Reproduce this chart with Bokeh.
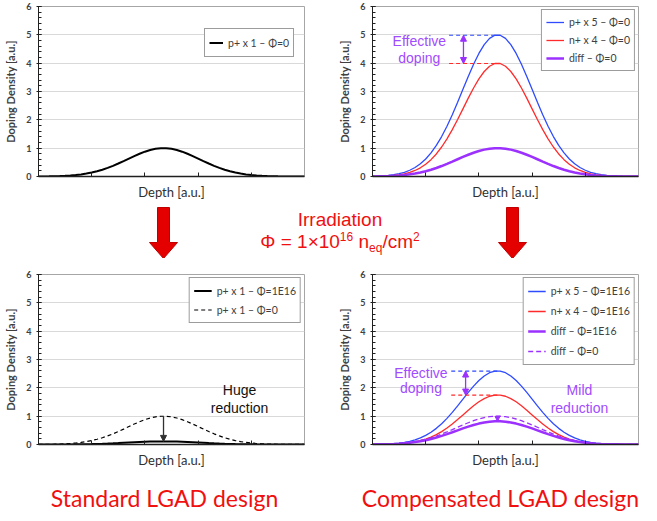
from bokeh.plotting import figure
from bokeh.layouts import column, row
from bokeh.models import Range1d, FixedTicker, Legend, LegendItem, Arrow, NormalHead, Div
from bokeh.core.properties import value
from bokeh.embed import file_html
from bokeh.resources import INLINE

# ---------------- data ----------------
depth = [0.0, 0.1, 0.2, 0.3, 0.4, 0.5, 0.6, 0.7, 0.8, 0.9, 1.0, 1.1, 1.2, 1.3, 1.4, 1.5, 1.6,
         1.7, 1.8, 1.9, 2.0, 2.1, 2.2, 2.3, 2.4, 2.5, 2.6, 2.7, 2.8, 2.9, 3.0, 3.1, 3.2, 3.3,
         3.4, 3.5, 3.6, 3.7, 3.8, 3.9, 4.0, 4.1, 4.2, 4.3, 4.4, 4.5, 4.6, 4.7, 4.8, 4.9, 5.0]

p1_phi0 = [0.003, 0.004, 0.007, 0.011, 0.016, 0.025, 0.036, 0.053, 0.074, 0.103, 0.139, 0.185,
           0.239, 0.304, 0.377, 0.458, 0.544, 0.633, 0.721, 0.803, 0.876, 0.935, 0.976, 0.997,
           0.997, 0.976, 0.935, 0.876, 0.803, 0.721, 0.633, 0.544, 0.458, 0.377, 0.304, 0.239,
           0.185, 0.139, 0.103, 0.074, 0.053, 0.036, 0.025, 0.016, 0.011, 0.007, 0.004, 0.003,
           0.002, 0.001, 0.001]
p1_phi16 = [0.000, 0.000, 0.001, 0.001, 0.002, 0.003, 0.004, 0.006, 0.008, 0.011, 0.015, 0.020,
            0.026, 0.033, 0.041, 0.050, 0.060, 0.070, 0.079, 0.088, 0.096, 0.103, 0.107, 0.110,
            0.110, 0.107, 0.103, 0.096, 0.088, 0.079, 0.070, 0.060, 0.050, 0.041, 0.033, 0.026,
            0.020, 0.015, 0.011, 0.008, 0.006, 0.004, 0.003, 0.002, 0.001, 0.001, 0.000, 0.000,
            0.000, 0.000, 0.000]
p5_phi0 = [0.009, 0.015, 0.025, 0.040, 0.064, 0.098, 0.149, 0.220, 0.317, 0.448, 0.617, 0.832,
           1.096, 1.410, 1.775, 2.182, 2.622, 3.079, 3.533, 3.963, 4.344, 4.654, 4.873, 4.986,
           4.986, 4.873, 4.654, 4.344, 3.963, 3.533, 3.079, 2.622, 2.182, 1.775, 1.410, 1.096,
           0.832, 0.617, 0.448, 0.317, 0.220, 0.149, 0.098, 0.064, 0.040, 0.025, 0.015, 0.009,
           0.005, 0.003, 0.002]
n4_phi0 = [0.005, 0.008, 0.014, 0.024, 0.039, 0.061, 0.095, 0.144, 0.213, 0.307, 0.432, 0.594,
           0.796, 1.041, 1.329, 1.656, 2.013, 2.388, 2.765, 3.124, 3.444, 3.706, 3.892, 3.988,
           3.988, 3.892, 3.706, 3.444, 3.124, 2.765, 2.388, 2.013, 1.656, 1.329, 1.041, 0.796,
           0.594, 0.432, 0.307, 0.213, 0.144, 0.095, 0.061, 0.039, 0.024, 0.014, 0.008, 0.005,
           0.003, 0.001, 0.001]
diff_phi0 = [0.004, 0.007, 0.011, 0.016, 0.025, 0.037, 0.054, 0.076, 0.104, 0.141, 0.185, 0.238,
             0.300, 0.369, 0.446, 0.526, 0.609, 0.691, 0.768, 0.839, 0.900, 0.948, 0.981, 0.998,
             0.998, 0.981, 0.948, 0.900, 0.839, 0.768, 0.691, 0.609, 0.526, 0.446, 0.369, 0.300,
             0.238, 0.185, 0.141, 0.104, 0.076, 0.054, 0.037, 0.025, 0.016, 0.011, 0.007, 0.004,
             0.002, 0.002, 0.001]
p5_phi16 = [0.005, 0.008, 0.013, 0.021, 0.033, 0.051, 0.077, 0.114, 0.165, 0.233, 0.321, 0.433,
            0.570, 0.733, 0.923, 1.135, 1.363, 1.601, 1.837, 2.061, 2.259, 2.420, 2.534, 2.593,
            2.593, 2.534, 2.420, 2.259, 2.061, 1.837, 1.601, 1.363, 1.135, 0.923, 0.733, 0.570,
            0.433, 0.321, 0.233, 0.165, 0.114, 0.077, 0.051, 0.033, 0.021, 0.013, 0.008, 0.005,
            0.003, 0.002, 0.001]
n4_phi16 = [0.002, 0.004, 0.006, 0.011, 0.017, 0.027, 0.042, 0.063, 0.093, 0.134, 0.189, 0.260,
            0.348, 0.455, 0.581, 0.725, 0.881, 1.045, 1.210, 1.367, 1.507, 1.621, 1.703, 1.745,
            1.745, 1.703, 1.621, 1.507, 1.367, 1.210, 1.045, 0.881, 0.725, 0.581, 0.455, 0.348,
            0.260, 0.189, 0.134, 0.093, 0.063, 0.042, 0.027, 0.017, 0.011, 0.006, 0.004, 0.002,
            0.001, 0.000, 0.000]
diff_phi16 = [0.003, 0.006, 0.009, 0.013, 0.021, 0.030, 0.044, 0.062, 0.085, 0.116, 0.152, 0.195,
              0.246, 0.303, 0.366, 0.431, 0.499, 0.567, 0.630, 0.688, 0.738, 0.777, 0.804, 0.818,
              0.818, 0.804, 0.777, 0.738, 0.688, 0.630, 0.567, 0.499, 0.431, 0.366, 0.303, 0.246,
              0.195, 0.152, 0.116, 0.085, 0.062, 0.044, 0.030, 0.021, 0.013, 0.009, 0.006, 0.003,
              0.002, 0.002, 0.001]

peak_depth = 2.35
y_ticks = [0, 1, 2, 3, 4, 5, 6]
x_ticks = [1, 2, 3, 4]

legend_tl = ["p+ x 1 \u2013 \u03a6=0"]
legend_tr = ["p+ x 5 \u2013 \u03a6=0", "n+ x 4 \u2013 \u03a6=0", "diff \u2013 \u03a6=0"]
legend_bl = ["p+ x 1 \u2013 \u03a6=1E16", "p+ x 1 \u2013 \u03a6=0"]
legend_br = ["p+ x 5 \u2013 \u03a6=1E16", "n+ x 4 \u2013 \u03a6=1E16", "diff \u2013 \u03a6=1E16",
             "diff \u2013 \u03a6=0"]
bottom_titles = ["Standard LGAD design", "Compensated LGAD design"]

BLUE = "#2f4bff"
RED = "#ff2b2b"
PURPLE = "#9b30ff"
PTEXT = "#a04cff"
DARK = "#404040"
FONT = "Lato"
AFONT = "Liberation Sans"


def panel(min_right):
    p = figure(frame_width=266, frame_height=170, x_range=Range1d(0, 5), y_range=Range1d(0, 6),
               output_backend="svg", toolbar_location=None,
               min_border_left=38, min_border_right=min_right, min_border_top=6,
               min_border_bottom=24)
    p.xgrid.visible = False
    p.ygrid.grid_line_color = "#d9d9d9"
    p.ygrid.ticker = FixedTicker(ticks=y_ticks)
    p.outline_line_color = "#a6a6a6"
    p.outline_line_width = 1
    p.background_fill_color = "white"
    p.border_fill_color = "white"

    xa = p.xaxis[0]
    xa.ticker = FixedTicker(ticks=x_ticks)
    xa.major_label_overrides = {t: "" for t in x_ticks}
    xa.major_label_text_font_size = "1px"
    xa.major_label_standoff = 0
    xa.major_tick_in = 4
    xa.major_tick_out = 0
    xa.minor_tick_in = 0
    xa.minor_tick_out = 0
    xa.axis_line_color = "#202020"
    xa.axis_line_width = 1.5
    xa.major_tick_line_color = "#202020"
    xa.axis_label = "Depth [a.u.]"
    xa.axis_label_text_font = FONT
    xa.axis_label_text_font_style = "normal"
    xa.axis_label_text_font_size = "13px"
    xa.axis_label_text_color = "#303030"
    xa.axis_label_standoff = 7

    ya = p.yaxis[0]
    ya.ticker = FixedTicker(ticks=y_ticks, minor_ticks=[i / 5 for i in range(31)])
    ya.major_label_text_font = FONT
    ya.major_label_text_font_style = "bold"
    ya.major_label_text_font_size = "9px"
    ya.major_label_text_color = DARK
    ya.major_label_standoff = 5
    ya.major_tick_in = 3
    ya.major_tick_out = 2
    ya.minor_tick_in = 3
    ya.minor_tick_out = 0
    ya.axis_line_color = "#202020"
    ya.major_tick_line_color = "#202020"
    ya.minor_tick_line_color = "#202020"
    ya.axis_label = "Doping Density [a.u.]"
    ya.axis_label_text_font = FONT
    ya.axis_label_text_font_style = "bold"
    ya.axis_label_text_font_size = "11px"
    ya.axis_label_text_color = DARK
    ya.axis_label_standoff = 6
    return p


def make_legend(p, labels, renderers, location, label_h, glyph_w=18, margin=3):
    leg = Legend(items=[LegendItem(label=l, renderers=[r]) for l, r in zip(labels, renderers)],
                 location=location)
    leg.label_text_font = FONT
    leg.label_text_font_size = "10.5px"
    leg.label_text_color = DARK
    leg.border_line_color = "#3a3a3a"
    leg.border_line_width = 1
    leg.background_fill_color = "white"
    leg.background_fill_alpha = 1
    leg.padding = 4
    leg.spacing = 2
    leg.margin = margin
    leg.glyph_width = glyph_w
    leg.glyph_height = label_h
    leg.label_height = label_h
    leg.label_standoff = 5
    p.add_layout(leg)


def ptext(p, xs, ys, lines, color, size="14px"):
    p.text(x=xs, y=ys, text=lines, text_font=value(AFONT), text_font_size=value(size),
           text_color=color, text_align="center", text_baseline="middle")


# ---------------- top left ----------------
p_tl = panel(30)
r = p_tl.line(depth, p1_phi0, line_color="black", line_width=2)
make_legend(p_tl, legend_tl, [r], (166, 119), 19, glyph_w=14)

# ---------------- top right ----------------
p_tr = panel(3)
rb = p_tr.line(depth, p5_phi0, line_color=BLUE, line_width=1.3)
rr = p_tr.line(depth, n4_phi0, line_color=RED, line_width=1.3)
rp = p_tr.line(depth, diff_phi0, line_color=PURPLE, line_width=2.5)
p_tr.line([1.44, peak_depth], [max(p5_phi0), max(p5_phi0)], line_color=BLUE, line_dash="4 3",
          line_width=1.2)
p_tr.line([1.44, peak_depth], [max(n4_phi0), max(n4_phi0)], line_color=RED, line_dash="4 3",
          line_width=1.2)
p_tr.add_layout(Arrow(x_start=1.71, y_start=max(n4_phi0), x_end=1.71, y_end=max(p5_phi0),
                      line_color=PURPLE, line_width=1.3,
                      start=NormalHead(size=6, line_color=PURPLE, fill_color=PURPLE),
                      end=NormalHead(size=6, line_color=PURPLE, fill_color=PURPLE)))
ptext(p_tr, [0.88, 0.88], [4.8, 4.2], ["Effective", "doping"], PTEXT)
make_legend(p_tr, legend_tr, [rb, rr, rp], "top_right", 16)

# ---------------- bottom left ----------------
p_bl = panel(30)
rs = p_bl.line(depth, p1_phi16, line_color="black", line_width=2)
rd = p_bl.line(depth, p1_phi0, line_color="black", line_width=1.2, line_dash="4 3")
p_bl.add_layout(Arrow(x_start=peak_depth, y_start=max(p1_phi0), x_end=peak_depth,
                      y_end=max(p1_phi16), line_color="#303030", line_width=1.3,
                      end=NormalHead(size=6, line_color="#303030", fill_color="#303030")))
ptext(p_bl, [3.78, 3.78], [1.93, 1.3], ["Huge", "reduction"], "#111111")
make_legend(p_bl, legend_bl, [rs, rd], "top_right", 17)

# ---------------- bottom right ----------------
p_br = panel(3)
rb2 = p_br.line(depth, p5_phi16, line_color=BLUE, line_width=1.3)
rr2 = p_br.line(depth, n4_phi16, line_color=RED, line_width=1.3)
rp2 = p_br.line(depth, diff_phi16, line_color=PURPLE, line_width=2.5)
rpd = p_br.line(depth, diff_phi0, line_color=PURPLE, line_width=1.3, line_dash="5 3")
p_br.line([1.48, peak_depth], [max(p5_phi16), max(p5_phi16)], line_color=BLUE, line_dash="4 3",
          line_width=1.2)
p_br.line([1.48, peak_depth], [max(n4_phi16), max(n4_phi16)], line_color=RED, line_dash="4 3",
          line_width=1.2)
p_br.add_layout(Arrow(x_start=1.75, y_start=max(n4_phi16), x_end=1.75, y_end=max(p5_phi16),
                      line_color=PURPLE, line_width=1.3,
                      start=NormalHead(size=6, line_color=PURPLE, fill_color=PURPLE),
                      end=NormalHead(size=6, line_color=PURPLE, fill_color=PURPLE)))
p_br.add_layout(Arrow(x_start=peak_depth, y_start=max(diff_phi0), x_end=peak_depth,
                      y_end=max(diff_phi16), line_color=PURPLE, line_width=1.2,
                      end=NormalHead(size=5, line_color=PURPLE, fill_color=PURPLE)))
ptext(p_br, [0.91, 0.91], [2.52, 1.98], ["Effective", "doping"], PTEXT)
ptext(p_br, [3.89, 3.89], [1.93, 1.3], ["Mild", "reduction"], PTEXT)
make_legend(p_br, legend_br, [rb2, rr2, rp2, rpd], "top_right", 18)

# ---------------- middle: arrows + irradiation text ----------------
MID_H = 56


def arrow_fig(width, cx):
    f = figure(width=width, height=MID_H, x_range=Range1d(0, width), y_range=Range1d(MID_H, 0),
               output_backend="svg", toolbar_location=None, x_axis_location=None,
               y_axis_location=None, min_border=0)
    f.xgrid.visible = False
    f.ygrid.visible = False
    f.outline_line_color = None
    sw, hw, top, neck, tip = 6, 14, 5, 40, 56
    f.patch([cx - sw, cx + sw, cx + sw, cx + hw, cx, cx - hw, cx - sw],
            [top, top, neck, neck, tip, neck, neck],
            fill_color="#e50000", line_color="#c00000", line_width=1)
    return f


arrow_l = arrow_fig(230, 163)
arrow_r = arrow_fig(201, 62)
irr = Div(text=("Irradiation<br>\u03a6 = 1\u00d710<span style='font-size:12px;position:relative;"
                "top:-7px'>16</span> n<span style='font-size:12px;position:relative;top:4px'>eq"
                "</span>/cm<span style='font-size:12px;position:relative;top:-7px'>2</span>"),
          width=210, height=MID_H,
          styles={"font-family": "'Liberation Sans', Arial, sans-serif", "font-size": "19px",
                  "color": "#f01010", "text-align": "center", "line-height": "22px",
                  "padding-top": "2px"})

# ---------------- bottom titles ----------------
bottom = figure(width=641, height=46, x_range=Range1d(0, 641), y_range=Range1d(0, 46),
                output_backend="svg", toolbar_location=None, x_axis_location=None,
                y_axis_location=None, min_border=0)
bottom.xgrid.visible = False
bottom.ygrid.visible = False
bottom.outline_line_color = None
bottom.text(x=[164, 500], y=[19, 19], text=bottom_titles, text_font=value(FONT),
            text_font_size=value("23px"), text_color="#f01010", text_align="center",
            text_baseline="middle")

layout = column(row(p_tl, p_tr), row(arrow_l, irr, arrow_r), row(p_bl, p_br), bottom)
open("out.html", "w").write(file_html(layout, INLINE))
